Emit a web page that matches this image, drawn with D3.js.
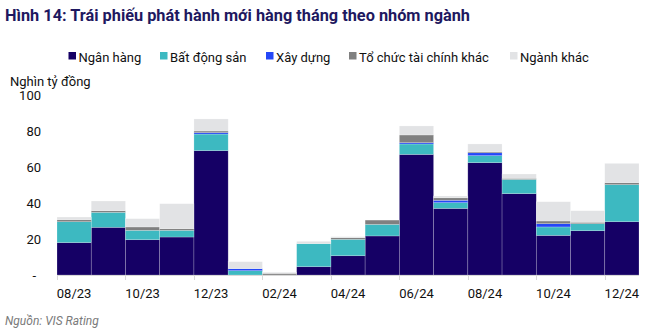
<!DOCTYPE html>
<html>
<head>
<meta charset="utf-8">
<script src="https://cdn.jsdelivr.net/npm/d3@7/dist/d3.min.js"></script>
<style>
  html, body { margin: 0; padding: 0; background: #fff; }
  svg { display: block; font-family: Roboto, "Noto Sans", sans-serif; }
</style>
</head>
<body>
<svg id="chart" width="652" height="334"></svg>
<script>
// Monthly new bond issuance by sector (thousand billion VND)
const months = ["08/23","09/23","10/23","11/23","12/23","01/24","02/24","03/24","04/24",
                "05/24","06/24","07/24","08/24","09/24","10/24","11/24","12/24"];
const nganHang   = [18.0, 26.5, 19.6, 21.1, 69.1, 0.0, 0.0, 4.6, 10.7, 21.7, 67.0, 37.0, 62.4, 45.2, 22.0, 24.6, 29.6];
const batDongSan = [11.6,  8.3,  5.2,  3.7,  9.2, 2.4, 0.0, 12.8, 9.1,  6.4,  5.8,  3.2,  3.9,  7.9,  4.7,  3.9, 20.6];
const xayDung    = [ 0.0,  0.0,  0.0,  0.0,  0.8, 1.1, 0.0, 0.0,  0.0,  0.0,  0.7,  1.3,  1.6,  0.0,  1.8,  0.0,  0.0];
const toChucTC   = [ 1.1,  0.9,  1.9,  0.9,  0.9, 0.0, 0.9, 0.0,  0.9,  2.4,  4.3,  1.4,  0.6,  0.6,  1.5,  0.8,  1.1];
const nganhKhac  = [ 1.5,  5.4,  4.6, 13.9,  6.7, 3.9, 0.6, 1.3,  0.6,  0.0,  5.0,  1.0,  4.3,  2.4, 10.7,  6.4, 10.7];

const seriesNames = ["Ngân hàng", "Bất động sản", "Xây dựng", "Tổ chức tài chính khác", "Ngành khác"];
const seriesValues = [nganHang, batDongSan, xayDung, toChucTC, nganhKhac];
const colors = ["#150065", "#3db9c1", "#2447f7", "#808080", "#e2e3e5"];
const yTicks = [0, 20, 40, 60, 80, 100];
const xTickLabels = ["08/23","10/23","12/23","02/24","04/24","06/24","08/24","10/24","12/24"];

const rows = months.map((m, i) => {
  const r = { month: m };
  seriesNames.forEach((s, k) => { r[s] = seriesValues[k][i]; });
  return r;
});

const svg = d3.select("#chart");
const plotLeft = 57, plotRight = 639, plotTop = 95, plotBottom = 275;

const x = d3.scaleBand().domain(months).range([plotLeft, plotRight]).paddingInner(0).paddingOuter(0);
const y = d3.scaleLinear().domain([0, 100]).range([plotBottom, plotTop]);
const color = d3.scaleOrdinal().domain(seriesNames).range(colors);

// Title
svg.append("text")
  .attr("x", 5).attr("y", 21)
  .attr("font-size", 17).attr("font-weight", 700)
  .attr("fill", "#1e1860")
  .attr("textLength", 465).attr("lengthAdjust", "spacingAndGlyphs")
  .text("Hình 14: Trái phiếu phát hành mới hàng tháng theo nhóm ngành");

// Legend
const legendX = [68.5, 160, 266, 349, 510];
const legend = svg.append("g");
seriesNames.forEach((s, k) => {
  const g = legend.append("g").attr("transform", `translate(${legendX[k]},0)`);
  g.append("rect").attr("x", 0).attr("y", 52).attr("width", 7.5).attr("height", 7.5).attr("fill", colors[k]);
  g.append("text").attr("x", 10).attr("y", 61.5).attr("font-size", 13).attr("fill", "#111").text(s);
});

// Unit label
svg.append("text").attr("x", 10).attr("y", 86).attr("font-size", 13).attr("fill", "#111").text("Nghìn tỷ đồng");

// Y axis labels
svg.append("g").selectAll("text").data(yTicks).join("text")
  .attr("x", d => d === 0 ? 36 : 41)
  .attr("y", d => y(d))
  .attr("dy", "0.35em")
  .attr("text-anchor", "end")
  .attr("font-size", 13)
  .attr("fill", "#111")
  .text(d => d === 0 ? "-" : d3.format("d")(d));

// Stacked bars
const stack = d3.stack().keys(seriesNames);
const layers = stack(rows);
svg.append("g").selectAll("g").data(layers).join("g")
  .attr("fill", d => color(d.key))
  .selectAll("rect").data(d => d).join("rect")
    .attr("x", d => x(d.data.month))
    .attr("y", d => y(d[1]))
    .attr("width", x.bandwidth())
    .attr("height", d => Math.max(0, y(d[0]) - y(d[1])))
    .attr("stroke", "#ffffff")
    .attr("stroke-opacity", 0.35)
    .attr("stroke-width", 0.6);

// X axis: baseline, ticks at every second band edge, labels centred on the band
const xAxis = svg.append("g");
xAxis.append("line")
  .attr("x1", plotLeft).attr("x2", plotRight)
  .attr("y1", plotBottom + 0.5).attr("y2", plotBottom + 0.5)
  .attr("stroke", "#d9d9d9").attr("stroke-width", 1);
xAxis.selectAll("line.tick").data(xTickLabels).join("line")
  .attr("class", "tick")
  .attr("x1", d => Math.round(x(d)) + 0.5).attr("x2", d => Math.round(x(d)) + 0.5)
  .attr("y1", plotBottom).attr("y2", plotBottom + 5)
  .attr("stroke", "#d9d9d9");
xAxis.selectAll("text").data(xTickLabels).join("text")
  .attr("x", d => x(d) + x.bandwidth() / 2)
  .attr("y", 298)
  .attr("text-anchor", "middle")
  .attr("font-size", 13)
  .attr("fill", "#111")
  .text(d => d);

// Source
svg.append("text").attr("x", 5).attr("y", 325)
  .attr("font-size", 12).attr("font-style", "italic").attr("fill", "#7a7a7a")
  .text("Nguồn: VIS Rating");
</script>
</body>
</html>
